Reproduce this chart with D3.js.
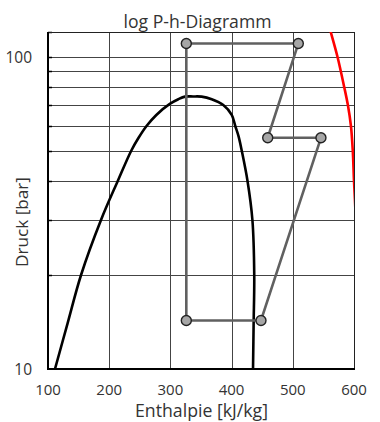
<!DOCTYPE html>
<html><head><meta charset="utf-8">
<script src="https://cdn.jsdelivr.net/npm/d3@7"></script>
<style>body{margin:0;background:#fff}svg{display:block}text{font-family:"Open Sans",Lato,sans-serif;fill:#333}</style>
</head><body><svg id="c" width="380" height="422"></svg>
<script>
// Saturation dome (two-phase boundary)
const domeH = [111.4, 132, 154, 186.6, 214, 236, 247.5, 261, 277, 299, 312.9, 324, 337, 351, 367.5, 386.4, 400.2, 406, 411.5, 416.6, 426, 434, 437, 436, 435];
const domeP = [10, 14, 20, 30, 40, 50, 54.8, 60, 65.1, 70.6, 73.1, 74.5, 74.6, 74.5, 73.1, 70, 65.1, 60, 55.5, 50, 40, 30, 20, 14, 10];
// Red isotherm
const redH = [559, 562, 573, 584, 590, 595, 598, 600, 601.5, 603];
const redP = [126, 120, 100, 80, 70, 60, 50, 40, 35, 30];
// Cycle state points
const cycH = [326, 509, 459, 546, 448, 326];
const cycP = [110.2, 110.2, 55, 55, 14.3, 14.3];
const xTicks = [100, 200, 300, 400, 500, 600];
const yTickLabels = [10, 100];
const yGrid = [20, 30, 40, 50, 60, 70, 80, 90, 100];

const svg = d3.select("#c");
const L = 48, R = 354, T = 32, B = 369;
const x = d3.scaleLinear().domain([100, 600]).range([L, R]);
const y = d3.scaleLog().domain([10, 120]).range([B, T]);

svg.append("defs").append("clipPath").attr("id", "clip")
  .append("rect").attr("x", L).attr("y", T).attr("width", R - L).attr("height", B - T);

// grid
const g = svg.append("g");
g.selectAll(".hg").data(yGrid).join("line")
  .attr("x1", L).attr("x2", R)
  .attr("y1", d => Math.round(y(d)) + 0.5).attr("y2", d => Math.round(y(d)) + 0.5)
  .attr("stroke", "#444").attr("stroke-width", 1);
g.selectAll(".vg").data(xTicks.slice(1, -1)).join("line")
  .attr("y1", T).attr("y2", B)
  .attr("x1", d => Math.round(x(d)) + 0.5).attr("x2", d => Math.round(x(d)) + 0.5)
  .attr("stroke", "#444").attr("stroke-width", 1);
// ticks on left axis (inside)
g.selectAll(".tk").data(yGrid.concat([120])).join("line")
  .attr("x1", L).attr("x2", L + 4)
  .attr("y1", d => Math.round(y(d)) + 0.5).attr("y2", d => Math.round(y(d)) + 0.5)
  .attr("stroke", "#000").attr("stroke-width", 1.5);

// frame top/right
svg.append("line").attr("x1", L).attr("x2", R + 0.5).attr("y1", T + 0.5).attr("y2", T + 0.5).attr("stroke", "#222");
svg.append("line").attr("x1", R + 0.5).attr("x2", R + 0.5).attr("y1", T).attr("y2", B).attr("stroke", "#222");

const plot = svg.append("g").attr("clip-path", "url(#clip)");
const line = d3.line().x(d => x(d[0])).y(d => y(d[1])).curve(d3.curveCatmullRom.alpha(0.5));

plot.append("path").datum(domeH.map((h, i) => [h, domeP[i]]))
  .attr("d", line).attr("fill", "none").attr("stroke", "#000").attr("stroke-width", 2.6);
plot.append("path").datum(redH.map((h, i) => [h, redP[i]]))
  .attr("d", line).attr("fill", "none").attr("stroke", "#ff0000").attr("stroke-width", 2.6);

const cyc = cycH.map((h, i) => [h, cycP[i]]);
svg.append("path").datum(cyc)
  .attr("d", d3.line().x(d => x(d[0])).y(d => y(d[1])).curve(d3.curveLinearClosed))
  .attr("fill", "none").attr("stroke", "#606060").attr("stroke-width", 2.6);
svg.selectAll(".pt").data(cyc).join("circle")
  .attr("cx", d => x(d[0])).attr("cy", d => y(d[1])).attr("r", 5)
  .attr("fill", "#a6a6a6").attr("stroke", "#222").attr("stroke-width", 1.4);

// axes lines
svg.append("line").attr("x1", L).attr("x2", L).attr("y1", T).attr("y2", B + 1).attr("stroke", "#000").attr("stroke-width", 2);
svg.append("line").attr("x1", L - 1).attr("x2", R + 1).attr("y1", B).attr("y2", B).attr("stroke", "#000").attr("stroke-width", 2);

// fit helper: adjust font size so text matches a target width
function fit(sel, w) {
  const n = sel.node(); const fs = +sel.attr("font-size");
  const cur = n.getComputedTextLength();
  if (cur > 0) sel.attr("font-size", (fs * w / cur).toFixed(2));
}

// labels
svg.selectAll(".xl").data(xTicks).join("text")
  .attr("x", d => x(d)).attr("y", 395).attr("text-anchor", "middle")
  .attr("font-size", 15).text(d => d);
svg.selectAll(".yl").data(yTickLabels).join("text")
  .attr("x", 32).attr("y", d => y(d) + 6).attr("text-anchor", "end")
  .attr("font-size", 15.5).text(d => d);
fit(svg.append("text").attr("x", 197.5).attr("y", 28).attr("text-anchor", "middle")
  .attr("font-size", 16).text("log P-h-Diagramm"), 148);
fit(svg.append("text").attr("x", 201.5).attr("y", 417).attr("text-anchor", "middle")
  .attr("font-size", 16).text("Enthalpie [kJ/kg]"), 133);
fit(svg.append("text").attr("transform", "translate(28,222) rotate(-90)").attr("text-anchor", "middle")
  .attr("font-size", 16).text("Druck [bar]"), 90);
</script></body></html>
